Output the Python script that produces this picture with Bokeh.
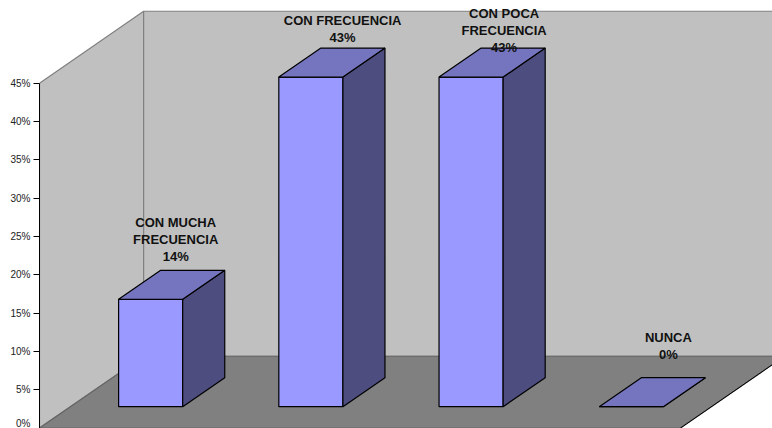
from bokeh.embed import file_html
from bokeh.models import ColumnDataSource, FixedTicker, PrintfTickFormatter, Range1d
from bokeh.plotting import figure
from bokeh.resources import INLINE
from bokeh.core.properties import value

# Survey answers and their shares, in percent
categories = ["CON MUCHA\nFRECUENCIA", "CON FRECUENCIA", "CON POCA\nFRECUENCIA", "NUNCA"]
percentages = [14, 43, 43, 0]
y_ticks = [0, 5, 10, 15, 20, 25, 30, 35, 40, 45]

# Oblique projection, in axis units
WALL_DX, WALL_DY = 0.65, 9.375
BAR_DX, BAR_DY = 0.2625, 3.78
BAR_W = 0.4
INSET_X, INSET_Y = (WALL_DX - BAR_DX) / 2, (WALL_DY - BAR_DY) / 2
FLOOR_L, FLOOR_R = -0.5, 3.5
WALL_TOP = 45

# Label anchors (category offset, percent of the last text line)
label_dx = [0.35, 0.392, 0.4, 0.425]
label_y = [22.4, 50.9, 49.6, 9.6]
LINE_PX = 17

p = figure(width=772, height=428, output_backend="svg", toolbar_location=None,
           x_range=Range1d(-0.5, 4.075), y_range=Range1d(-0.05, 55.78),
           min_border_left=39, min_border_right=0, min_border_top=0, min_border_bottom=0,
           background_fill_color="white", border_fill_color="white", outline_line_color=None)
p.xaxis.visible = False
p.xgrid.visible = False
p.ygrid.visible = False

ax = p.yaxis[0]
ax.ticker = FixedTicker(ticks=y_ticks)
ax.formatter = PrintfTickFormatter(format="%d%%")
ax.bounds = (0, 45)
ax.axis_line_color = "black"
ax.axis_line_width = 1
ax.major_tick_line_color = "black"
ax.major_tick_in = 0
ax.major_tick_out = 6
ax.minor_tick_line_color = None
ax.major_label_standoff = 3
ax.major_label_text_font = "Liberation Sans"
ax.major_label_text_font_size = "10px"
ax.major_label_text_color = "#222222"

# Walls and floor
wall_style = dict(line_color="#808080", line_width=1.2)
p.patch([FLOOR_L, FLOOR_L + WALL_DX, FLOOR_L + WALL_DX, FLOOR_L],
        [0, WALL_DY, WALL_TOP + WALL_DY, WALL_TOP], fill_color="#c0c0c0", **wall_style)
p.patch([FLOOR_L + WALL_DX, FLOOR_R + WALL_DX, FLOOR_R + WALL_DX, FLOOR_L + WALL_DX],
        [WALL_DY, WALL_DY, WALL_TOP + WALL_DY, WALL_TOP + WALL_DY], fill_color="#c0c0c0", **wall_style)
p.patch([FLOOR_L, FLOOR_L + WALL_DX, FLOOR_R + WALL_DX, FLOOR_R],
        [0, WALL_DY, WALL_DY, 0], fill_color="#808080", line_color="#666666", line_width=1.2)
p.line([FLOOR_R, FLOOR_R + WALL_DX], [0, WALL_DY], line_color="black", line_width=1)

# Bars: front, side and top faces
front_x, front_y, side_x, side_y, top_x, top_y = [], [], [], [], [], []
for i, pct in enumerate(percentages):
    x0 = i + INSET_X - BAR_W / 2
    x1 = x0 + BAR_W
    y0 = INSET_Y
    y1 = y0 + pct
    front_x.append([x0, x1, x1, x0])
    front_y.append([y0, y0, y1, y1])
    side_x.append([x1, x1 + BAR_DX, x1 + BAR_DX, x1])
    side_y.append([y0, y0 + BAR_DY, y1 + BAR_DY, y1])
    top_x.append([x0, x1, x1 + BAR_DX, x0 + BAR_DX])
    top_y.append([y1, y1, y1 + BAR_DY, y1 + BAR_DY])

face = dict(line_color="black", line_width=1.2)
p.patches(front_x, front_y, fill_color="#9999ff", **face)
p.patches(side_x, side_y, fill_color="#4d4d80", **face)
p.patches(top_x, top_y, fill_color="#7575bf", **face)

# Data labels: name lines stacked above the percentage
rows = dict(x=[], y=[], text=[], off=[])
for i, (name, pct) in enumerate(zip(categories, percentages)):
    lines = name.split("\n") + [f"{pct}%"]
    for k, line in enumerate(lines):
        rows["x"].append(i + label_dx[i])
        rows["y"].append(label_y[i])
        rows["text"].append(line)
        rows["off"].append(-(len(lines) - 1 - k) * LINE_PX)

p.text("x", "y", text="text", y_offset="off", source=ColumnDataSource(rows),
       text_align="center", text_baseline="middle", text_color="#111111",
       text_font=value("Liberation Sans"), text_font_style="bold", text_font_size="13px")

open("out.html", "w").write(file_html(p, INLINE))
